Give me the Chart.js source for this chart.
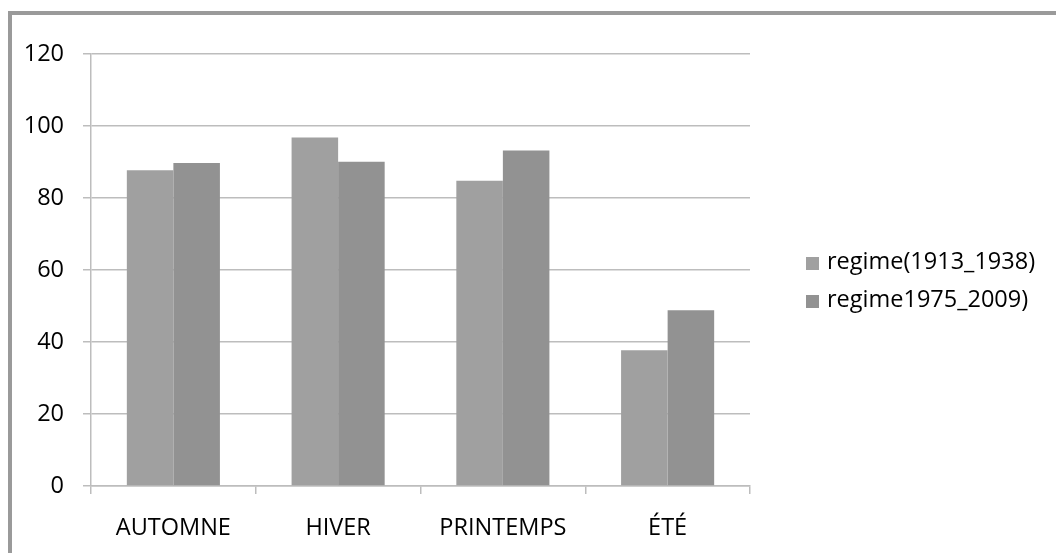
<!DOCTYPE html>
<html>
<head>
<meta charset="utf-8">
<script src="https://cdn.jsdelivr.net/npm/chart.js@4/dist/chart.umd.min.js"></script>
<style>
  html, body { margin: 0; padding: 0; background: #fff; }
  body { width: 1056px; height: 553px; position: relative; overflow: hidden; }
  #frame {
    position: absolute; left: 8px; top: 11px; right: 0; bottom: 0;
    border-left: 4px solid #9a9a9a; border-top: 4px solid #9a9a9a;
  }
  #wrap { position: absolute; left: 0; top: 0; width: 1056px; height: 553px; }
  #legend {
    position: absolute; left: 806px; top: 241px;
    font-family: "Open Sans", "DejaVu Sans", sans-serif; font-size: 23.5px; color: #000;
  }
  #legend .row { display: flex; align-items: center; height: 38px; white-space: nowrap; }
  #legend .box { width: 13px; height: 13px; margin-right: 8px; position: relative; top: 3px; }
</style>
</head>
<body>
<div id="frame"></div>
<div id="wrap"><canvas id="chart"></canvas></div>
<div id="legend"></div>
<script>
// Seasonal regime, two reference periods
const categories = ['AUTOMNE', 'HIVER', 'PRINTEMPS', 'ÉTÉ'];
const seriesNames = ['regime(1913_1938)', 'regime1975_2009)'];
const regime1913 = [87.7, 96.8, 84.8, 37.7];
const regime1975 = [89.7, 90.1, 93.2, 48.8];
const yTicks = [0, 20, 40, 60, 80, 100, 120];

const FONT = { family: '"Open Sans", "DejaVu Sans", sans-serif', size: 23.5 };
const GRID = '#bdbdbd';

// Legend rendered as HTML from the chart's own legend items
const htmlLegend = {
  id: 'htmlLegend',
  afterUpdate(chart) {
    const host = document.getElementById('legend');
    host.innerHTML = '';
    const items = chart.options.plugins.legend.labels.generateLabels(chart);
    items.forEach(item => {
      const row = document.createElement('div');
      row.className = 'row';
      const box = document.createElement('span');
      box.className = 'box';
      box.style.background = item.fillStyle;
      const txt = document.createElement('span');
      txt.textContent = item.text;
      row.appendChild(box);
      row.appendChild(txt);
      host.appendChild(row);
    });
  }
};

new Chart(document.getElementById('chart'), {
  type: 'bar',
  data: {
    labels: categories,
    datasets: [
      { label: seriesNames[0], data: regime1913, backgroundColor: '#a0a0a0', borderWidth: 0 },
      { label: seriesNames[1], data: regime1975, backgroundColor: '#929292', borderWidth: 0 }
    ]
  },
  options: {
    responsive: true,
    maintainAspectRatio: false,
    animation: false,
    layout: { padding: { top: 54, right: 306, bottom: 0, left: 0 } },
    datasets: { bar: { categoryPercentage: 0.565, barPercentage: 1.0 } },
    plugins: {
      tooltip: { enabled: false },
      legend: { display: false }
    },
    scales: {
      x: {
        offset: true,
        grid: { display: true, drawOnChartArea: false, drawTicks: true, tickLength: 8, color: GRID, lineWidth: 1.5 },
        border: { display: true, color: GRID, width: 1.5 },
        ticks: { font: FONT, color: '#000', padding: 20, maxRotation: 0 },
        afterFit(s) { s.height = 67; }
      },
      y: {
        min: 0, max: 120,
        afterBuildTicks(s) { s.ticks = yTicks.map(v => ({ value: v })); },
        grid: { color: GRID, lineWidth: 1.5, tickLength: 8, drawTicks: true },
        border: { display: true, color: GRID, width: 1.5 },
        ticks: { font: FONT, color: '#000', padding: 19 },
        afterFit(s) { s.width = 91; }
      }
    }
  },
  plugins: [htmlLegend]
});
</script>
</body>
</html>
